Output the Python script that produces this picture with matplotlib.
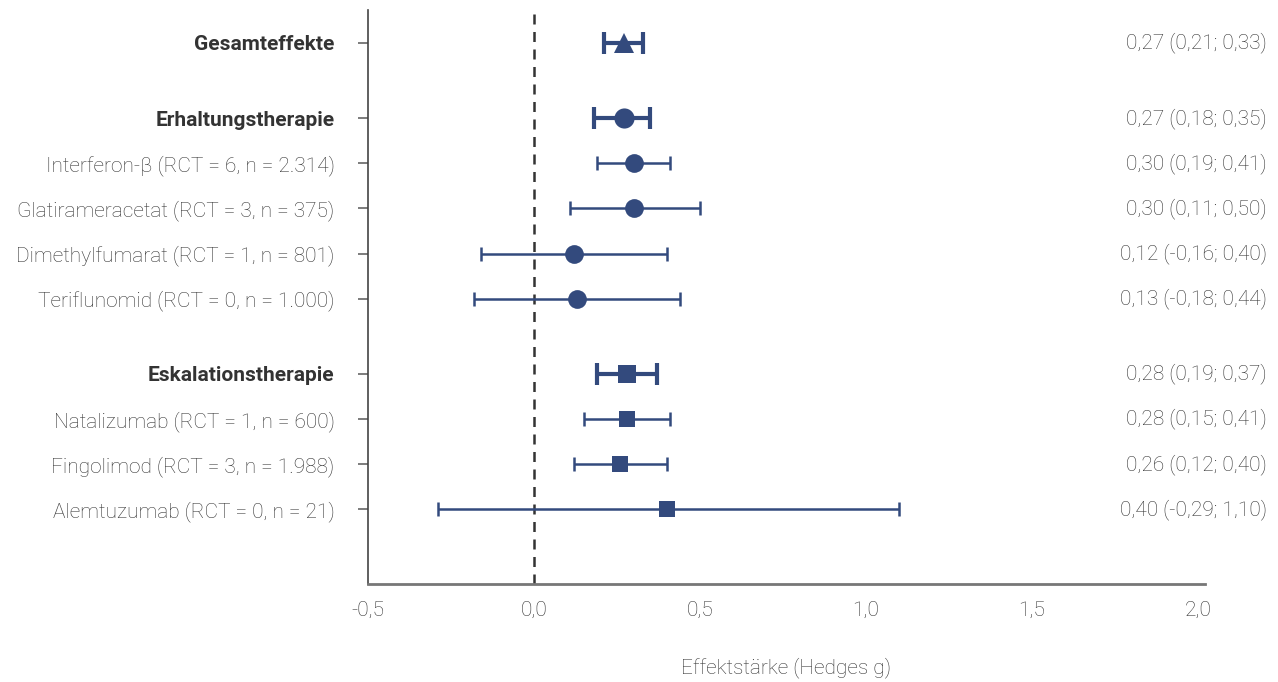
import matplotlib.pyplot as plt
import numpy as np

plt.rcParams['font.family'] = ['Roboto', 'DejaVu Sans']

# Daten
labels = ['Gesamteffekte',
          'Erhaltungstherapie',
          'Interferon-β (RCT = 6, n = 2.314)',
          'Glatirameracetat (RCT = 3, n = 375)',
          'Dimethylfumarat (RCT = 1, n = 801)',
          'Teriflunomid (RCT = 0, n = 1.000)',
          'Eskalationstherapie',
          'Natalizumab (RCT = 1, n = 600)',
          'Fingolimod (RCT = 3, n = 1.988)',
          'Alemtuzumab (RCT = 0, n = 21)']
effekt = [0.27, 0.27, 0.30, 0.30, 0.12, 0.13, 0.28, 0.28, 0.26, 0.40]
unten = [0.21, 0.18, 0.19, 0.11, -0.16, -0.18, 0.19, 0.15, 0.12, -0.29]
oben = [0.33, 0.35, 0.41, 0.50, 0.40, 0.44, 0.37, 0.41, 0.40, 1.10]
gruppe = [0, 1, 1, 1, 1, 1, 2, 2, 2, 2]
summe = [True, True, False, False, False, False, True, False, False, False]
marker_gruppe = ['^', 'o', 's']

# y-Positionen: Zeilenabstand 1, zusaetzlicher Abstand zwischen Gruppen
ypos = []
y = 0.0
for i, g in enumerate(gruppe):
    if i > 0:
        y += 1.0 if g == gruppe[i - 1] else 1.667
    ypos.append(y)

farbe = '#334a7d'
textfarbe = '#333333'
fs = 15

fig = plt.figure(figsize=(12.78, 6.82), dpi=100)
ax = fig.add_axes([0.2879, 0.1437, 0.6549, 0.8416])

for i in range(len(labels)):
    lo = effekt[i] - unten[i]
    hi = oben[i] - effekt[i]
    m = marker_gruppe[gruppe[i]]
    if summe[i]:
        lw, cs, ct = 3.0, 8, 3.0
        ms = {'^': 14.5, 'o': 14.5, 's': 13}[m]
    else:
        lw, cs, ct = 1.8, 5, 1.8
        ms = {'^': 14, 'o': 13.5, 's': 12}[m]
    ax.errorbar(effekt[i], ypos[i], xerr=[[lo], [hi]], fmt='none',
                ecolor=farbe, elinewidth=lw, capsize=cs, capthick=ct)
    ax.plot(effekt[i], ypos[i], marker=m, color=farbe, markersize=ms,
            markeredgewidth=0, linestyle='none')
    txt = f'{effekt[i]:.2f} ({unten[i]:.2f}; {oben[i]:.2f})'.replace('.', ',')
    ax.text(1.0740, ypos[i], txt,
            transform=ax.get_yaxis_transform(), ha='right', va='center',
            fontsize=fs, color=textfarbe, fontweight='light')

ax.axvline(0, color='#333333', linestyle=(0, (4, 3)), linewidth=1.8, zorder=0)

ax.set_xlim(-0.5, 2.021)
ax.set_ylim(11.99, -0.73)
ax.set_xticks(np.arange(-0.5, 2.01, 0.5))
ax.set_xticklabels([f'{v:.1f}'.replace('.', ',') for v in np.arange(-0.5, 2.01, 0.5)],
                   fontsize=fs, color=textfarbe, fontweight='light')
ax.tick_params(axis='x', length=0, pad=12)
ax.set_yticks(ypos)
ax.set_yticklabels(labels, fontsize=fs, color=textfarbe, fontweight='light')
for i, t in enumerate(ax.get_yticklabels()):
    if summe[i]:
        t.set_fontweight('bold')
        t.set_color('#333333')
ax.tick_params(axis='y', length=7, width=1.2, color='#666666', pad=17)

ax.spines['top'].set_visible(False)
ax.spines['right'].set_visible(False)
ax.spines['left'].set_color('#444444')
ax.spines['left'].set_linewidth(1.2)
ax.spines['bottom'].set_color('#777777')
ax.spines['bottom'].set_linewidth(2)

ax.set_xlabel('Effektstärke (Hedges g)', fontsize=fs, color=textfarbe,
              fontweight='light', labelpad=27)

plt.savefig('out.png', dpi=100)
